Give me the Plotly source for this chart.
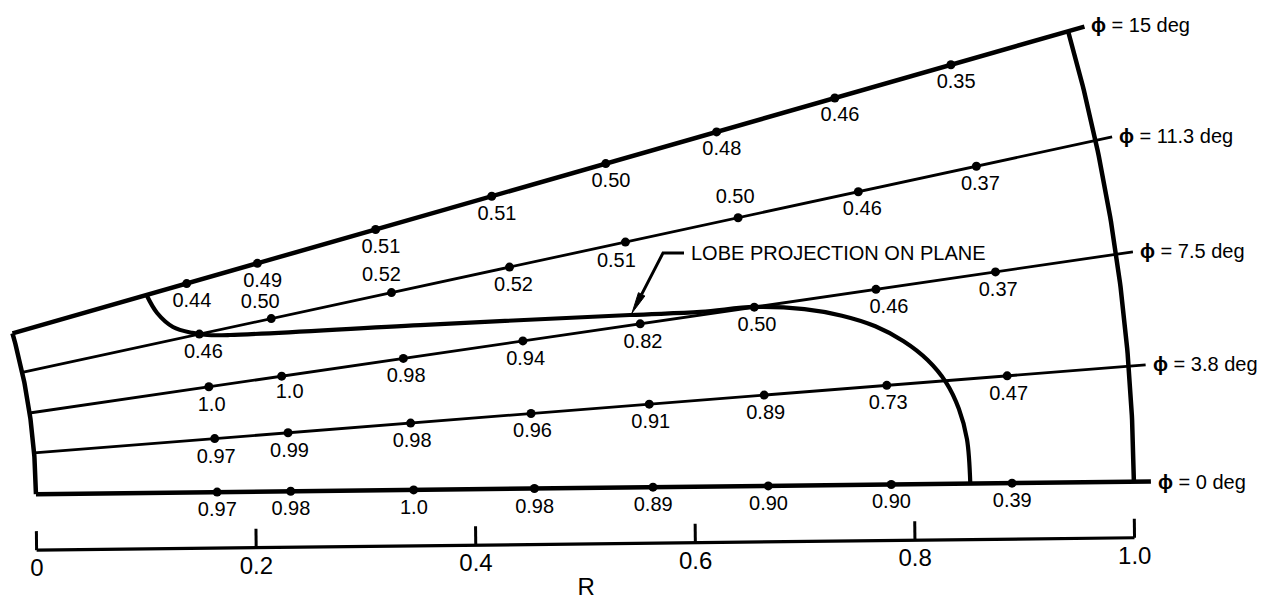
import numpy as np
import plotly.graph_objects as go

# ---------------------------------------------------------------------------
# Data
# ---------------------------------------------------------------------------
# Radial measurement stations shared by every ray (R = 0 inner edge, 1 outer)
R_STATIONS = [0.165, 0.232, 0.344, 0.454, 0.562, 0.667, 0.779, 0.889]

# Ray angles, deg
PHI_DEG = [0, 3.8, 7.5, 11.3, 15]

# Measured values at each station, one list per ray
VALUES_PHI_0 = [0.97, 0.98, 1.0, 0.98, 0.89, 0.90, 0.90, 0.39]
VALUES_PHI_3_8 = [0.97, 0.99, 0.98, 0.96, 0.91, 0.89, 0.73, 0.47]
VALUES_PHI_7_5 = [1.0, 1.0, 0.98, 0.94, 0.82, 0.50, 0.46, 0.37]
VALUES_PHI_11_3 = [0.46, 0.50, 0.52, 0.52, 0.51, 0.50, 0.46, 0.37]
VALUES_PHI_15 = [0.44, 0.49, 0.51, 0.51, 0.50, 0.48, 0.46, 0.35]

# Lobe projection on the plane, outline as (R, phi) pairs
LOBE_R = [0.127, 0.132, 0.143, 0.159, 0.172, 0.192, 0.364, 0.554, 0.618,
          0.667, 0.712, 0.745, 0.774, 0.798, 0.818, 0.833, 0.843, 0.849,
          0.851]
LOBE_PHI = [15.0, 13.5, 12.22, 11.49, 11.12, 10.8, 9.2, 7.97, 7.63,
            7.51, 7.13, 6.67, 6.10, 5.41, 4.62, 3.74, 2.74, 1.62,
            0.0]

# R scale
R_TICKS = [0, 0.2, 0.4, 0.6, 0.8, 1.0]
R_TICK_LABELS = ["0", "0.2", "0.4", "0.6", "0.8", "1.0"]

VALUES_BY_RAY = [VALUES_PHI_0, VALUES_PHI_3_8, VALUES_PHI_7_5,
                 VALUES_PHI_11_3, VALUES_PHI_15]

# ---------------------------------------------------------------------------
# Drawing geometry (fan sector seen from its apex, drawing units)
# ---------------------------------------------------------------------------
TILT_DEG = 0.646        # drawn direction of the phi = 0 ray
ANGLE_SCALE = 1.0218    # drawn angle per degree of phi
R_INNER = 609.0         # apex to the R = 0 arc
R_SPAN = 1098.0         # R = 0 arc to R = 1 arc
RAY_OVERRUN = 1.0155    # rays run a little past the outer arc

FONT = "Liberation Sans, Arial, Helvetica, sans-serif"
INK = "black"


def theta(phi):
    return np.radians(TILT_DEG + ANGLE_SCALE * np.asarray(phi, float))


def to_xy(r, phi):
    r = np.asarray(r, float)
    th = theta(phi)
    d = R_INNER + R_SPAN * r
    return d * np.cos(th), d * np.sin(th)


def fmt(v):
    return "1.0" if v == 1 else f"{v:.2f}"


fig = go.Figure()


def add_path(x, y, width, shape="linear", smoothing=1.0):
    fig.add_trace(go.Scatter(
        x=list(x), y=list(y), mode="lines",
        line=dict(color=INK, width=width, shape=shape,
                  smoothing=smoothing if shape == "spline" else None),
        hoverinfo="skip", showlegend=False))


# Rays
RAY_WIDTH = {0: 4.5, 15: 4.5}
for phi in PHI_DEG:
    x, y = to_xy([0, RAY_OVERRUN], [phi, phi])
    add_path(x, y, RAY_WIDTH.get(phi, 2.8))

# Inner and outer boundary arcs
arc_phi = np.linspace(PHI_DEG[0], PHI_DEG[-1], 90)
x, y = to_xy(np.zeros_like(arc_phi), arc_phi)
add_path(x, y, 4.5)
x, y = to_xy(np.ones_like(arc_phi), arc_phi)
add_path(x, y, 4.5)

# Lobe outline
x, y = to_xy(LOBE_R, LOBE_PHI)
add_path(x, y, 4.2, shape="spline", smoothing=1.0)

# Station dots
for phi in PHI_DEG:
    x, y = to_xy(R_STATIONS, [phi] * len(R_STATIONS))
    fig.add_trace(go.Scatter(
        x=x, y=y, mode="markers",
        marker=dict(color=INK, size=9, line=dict(width=0)),
        hoverinfo="skip", showlegend=False))

# Value labels: below each dot, perpendicular to its ray, with a few moved
LABEL_GAP = 19
LABEL_MOVES = {  # (ray index, station index): (right, down) offsets
    (3, 1): (-11, -16), (3, 2): (-10, -17), (3, 5): (-3, -20),
    (3, 4): (-9, 20), (2, 1): (8, 17), (2, 6): (13, 19),
}
lx, ly, lt = [], [], []
for i, (phi, vals) in enumerate(zip(PHI_DEG, VALUES_BY_RAY)):
    th = float(theta(phi))
    px, py = to_xy(R_STATIONS, [phi] * len(R_STATIONS))
    for j, v in enumerate(vals):
        if (i, j) in LABEL_MOVES:
            dx, dy = LABEL_MOVES[(i, j)]
            ox, oy = dx, -dy
        else:
            ox, oy = LABEL_GAP * np.sin(th), -LABEL_GAP * np.cos(th)
        lx.append(px[j] + ox)
        ly.append(py[j] + oy)
        lt.append(fmt(v))
fig.add_trace(go.Scatter(
    x=lx, y=ly, text=lt, mode="text", textposition="middle center",
    textfont=dict(family=FONT, size=20, color=INK),
    hoverinfo="skip", showlegend=False))

# Ray captions
annotations = []
for phi in PHI_DEG:
    th = float(theta(phi))
    d = R_INNER + R_SPAN * RAY_OVERRUN + 5
    annotations.append(dict(
        x=d * np.cos(th), y=d * np.sin(th), xref="x", yref="y",
        text=f"<b>\u03d5</b> = {phi:g} deg", showarrow=False,
        xanchor="left", yanchor="middle",
        font=dict(family=FONT, size=20, color=INK)))

# R scale bar, parallel to the phi = 0 ray
th0 = float(theta(0))
nx, ny = np.sin(th0), -np.cos(th0)   # unit vector pointing below the ray
BAR_OFFSET = 56
TICK_LEN = 19
bx, by = to_xy([0, 1], [0, 0])
add_path(bx + BAR_OFFSET * nx, by + BAR_OFFSET * ny, 3.2)
tx, ty = [], []
for t in R_TICKS:
    x0, y0 = to_xy(t, 0)
    x0, y0 = float(x0) + BAR_OFFSET * nx, float(y0) + BAR_OFFSET * ny
    tx += [x0, x0 - TICK_LEN * nx, None]
    ty += [y0, y0 - TICK_LEN * ny, None]
add_path(tx, ty, 3.0)

sx, sy = to_xy(R_TICKS, [0] * len(R_TICKS))
fig.add_trace(go.Scatter(
    x=sx + (BAR_OFFSET + 20) * nx, y=sy + (BAR_OFFSET + 20) * ny,
    text=R_TICK_LABELS, mode="text", textposition="middle center",
    textfont=dict(family=FONT, size=24, color=INK),
    hoverinfo="skip", showlegend=False))
rx, ry = to_xy(0.5, 0)
fig.add_trace(go.Scatter(
    x=[float(rx) + (BAR_OFFSET + 45) * nx], y=[float(ry) + (BAR_OFFSET + 45) * ny],
    text=["R"], mode="text", textposition="middle center",
    textfont=dict(family=FONT, size=24, color=INK),
    hoverinfo="skip", showlegend=False))

# Leader to the lobe outline: short horizontal run, slanted line, arrowhead
tipx, tipy = to_xy(LOBE_R[7], LOBE_PHI[7])
tipx, tipy = float(tipx) + 2, float(tipy) + 2
kneex, kneey = tipx + 31, tipy + 60
ux, uy = tipx - kneex, tipy - kneey
ulen = np.hypot(ux, uy)
ux, uy = ux / ulen, uy / ulen
HEAD_LEN, HEAD_HALF = 21, 3.6
basex, basey = tipx - HEAD_LEN * ux, tipy - HEAD_LEN * uy
add_path([kneex + 21, kneex, basex], [kneey, kneey, basey], 3.0)
fig.add_trace(go.Scatter(
    x=[tipx, basex - HEAD_HALF * uy, basex + HEAD_HALF * uy, tipx],
    y=[tipy, basey + HEAD_HALF * ux, basey - HEAD_HALF * ux, tipy],
    mode="lines", fill="toself", fillcolor=INK,
    line=dict(color=INK, width=1), hoverinfo="skip", showlegend=False))
annotations.append(dict(
    x=kneex + 26, y=kneey, xref="x", yref="y",
    text="LOBE PROJECTION ON PLANE", showarrow=False,
    xanchor="left", yanchor="middle",
    font=dict(family=FONT, size=20, color=INK)))

fig.update_layout(
    width=1264, height=599, autosize=False,
    margin=dict(l=0, r=0, t=0, b=0),
    paper_bgcolor="white", plot_bgcolor="white",
    xaxis=dict(range=[573, 1837], visible=False, fixedrange=True),
    yaxis=dict(range=[-98, 501], visible=False, fixedrange=True),
    annotations=annotations,
    showlegend=False,
)

fig.write_html("out.html")
